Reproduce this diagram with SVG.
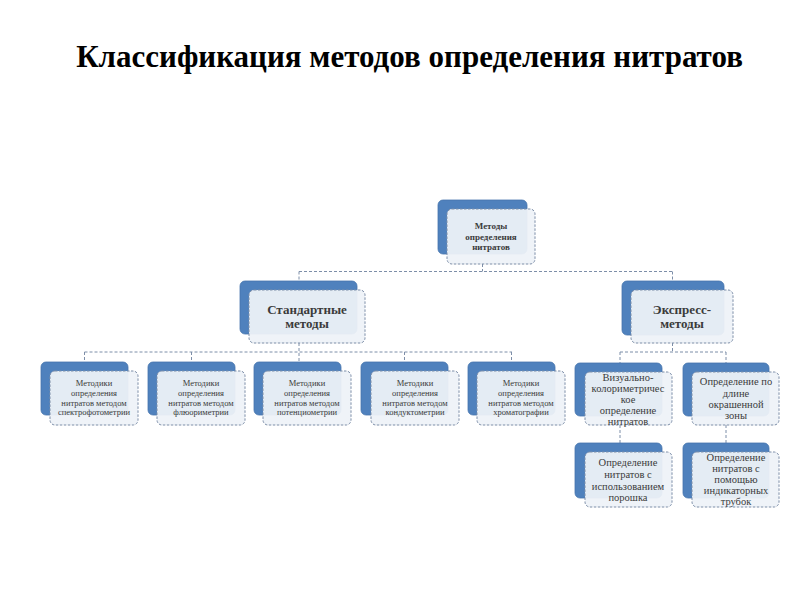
<svg xmlns="http://www.w3.org/2000/svg" width="800" height="600" viewBox="0 0 800 600">
<style>
.back{fill:#4F81BD;stroke:#4675ad;stroke-width:0.8}
.front{fill:#eef2f8;fill-opacity:0.94;stroke:#7d8ea8;stroke-width:1;stroke-dasharray:2.5,1.5}
.con{fill:none;stroke:#7d8ea8;stroke-width:1;stroke-dasharray:3,2}
.t{fill:#3b3b3b;text-anchor:middle}
.b{font-weight:bold}
.s1{font-size:9px}
.s2{font-size:13px}
.s3{font-size:8.5px}
.s4{font-size:10.5px}
</style>
<rect width="800" height="600" fill="#ffffff"/>
<g font-family="Liberation Serif, Times New Roman, serif">
<text x="409.5" y="67" font-weight="bold" font-size="31" text-anchor="middle" fill="#000">Классификация методов определения нитратов</text>
<g id="connectors">
<path class="con" d="M482.5 264V271.5M299 271.5H672.5M299 271.5V281M672.5 271.5V281"/>
<path class="con" d="M299 343V362M84.5 352H512M84.5 352V362M191.5 352V362M404.5 352V362M511.5 352V362"/>
<path class="con" d="M672.5 343V352M620 352H726M620 352V363M726 352V363"/>
<path class="con" d="M620 425V443M726 425V443"/>
</g>
<g id="n0"><rect class="back" x="438" y="200" width="89" height="54" rx="5"/><rect class="front" x="447" y="209" width="88" height="55" rx="5"/>
<text class="t b s1" x="491" y="229">Методы</text><text class="t b s1" x="491" y="240">определения</text><text class="t b s1" x="491" y="250">нитратов</text></g>
<g id="n1"><rect class="back" x="240" y="281" width="117" height="53" rx="5"/><rect class="front" x="249" y="290" width="116" height="53" rx="5"/>
<text class="t b s2" x="307" y="314">Стандартные</text><text class="t b s2" x="307" y="328">методы</text></g>
<g id="n2"><rect class="back" x="622" y="281" width="102" height="54" rx="5"/><rect class="front" x="631" y="290" width="102" height="53" rx="5"/>
<text class="t b s2" x="682" y="314">Экспресс-</text><text class="t b s2" x="682" y="328">методы</text></g>
<g id="n3"><rect class="back" x="41" y="362" width="87" height="53" rx="5"/><rect class="front" x="50" y="371" width="88" height="54" rx="5"/>
<text class="t s3" x="94" y="386">Методики</text><text class="t s3" x="94" y="396">определения</text><text class="t s3" x="94" y="406">нитратов методом</text><text class="t s3" x="94" y="415">спектрофотометрии</text></g>
<g id="n4"><rect class="back" x="148" y="362" width="87" height="53" rx="5"/><rect class="front" x="157" y="371" width="88" height="54" rx="5"/>
<text class="t s3" x="201" y="386">Методики</text><text class="t s3" x="201" y="396">определения</text><text class="t s3" x="201" y="406">нитратов методом</text><text class="t s3" x="201" y="415">флюориметрии</text></g>
<g id="n5"><rect class="back" x="254" y="362" width="87" height="53" rx="5"/><rect class="front" x="263" y="371" width="88" height="54" rx="5"/>
<text class="t s3" x="307" y="386">Методики</text><text class="t s3" x="307" y="396">определения</text><text class="t s3" x="307" y="406">нитратов методом</text><text class="t s3" x="307" y="415">потенциометрии</text></g>
<g id="n6"><rect class="back" x="361" y="362" width="87" height="53" rx="5"/><rect class="front" x="371" y="371" width="88" height="54" rx="5"/>
<text class="t s3" x="415" y="386">Методики</text><text class="t s3" x="415" y="396">определения</text><text class="t s3" x="415" y="406">нитратов методом</text><text class="t s3" x="415" y="415">кондуктометрии</text></g>
<g id="n7"><rect class="back" x="468" y="362" width="87" height="53" rx="5"/><rect class="front" x="477" y="371" width="88" height="54" rx="5"/>
<text class="t s3" x="521" y="386">Методики</text><text class="t s3" x="521" y="396">определения</text><text class="t s3" x="521" y="406">нитратов методом</text><text class="t s3" x="521" y="415">хроматографии</text></g>
<g id="n8"><rect class="back" x="575" y="363" width="87" height="53" rx="5"/><rect class="front" x="585" y="372" width="87" height="53" rx="5"/>
<text class="t s4" x="628" y="381">Визуально-</text><text class="t s4" x="628" y="392">колориметричес</text><text class="t s4" x="628" y="403">кое</text><text class="t s4" x="628" y="414">определение</text><text class="t s4" x="628" y="425">нитратов</text></g>
<g id="n9"><rect class="back" x="683" y="363" width="86" height="53" rx="5"/><rect class="front" x="692" y="372" width="87" height="53" rx="5"/>
<text class="t s4" x="736" y="385">Определение по</text><text class="t s4" x="736" y="397">длине</text><text class="t s4" x="736" y="408">окрашенной</text><text class="t s4" x="736" y="419">зоны</text></g>
<g id="n10"><rect class="back" x="575" y="443" width="87" height="55" rx="5"/><rect class="front" x="585" y="452" width="87" height="55" rx="5"/>
<text class="t s4" x="628" y="466">Определение</text><text class="t s4" x="628" y="478">нитратов с</text><text class="t s4" x="628" y="490">использованием</text><text class="t s4" x="628" y="501">порошка</text></g>
<g id="n11"><rect class="back" x="683" y="443" width="86" height="55" rx="5"/><rect class="front" x="692" y="452" width="87" height="55" rx="5"/>
<text class="t s4" x="736" y="461">Определение</text><text class="t s4" x="736" y="472">нитратов с</text><text class="t s4" x="736" y="483">помощью</text><text class="t s4" x="736" y="494">индикаторных</text><text class="t s4" x="736" y="505">трубок</text></g>
</g>
</svg>
